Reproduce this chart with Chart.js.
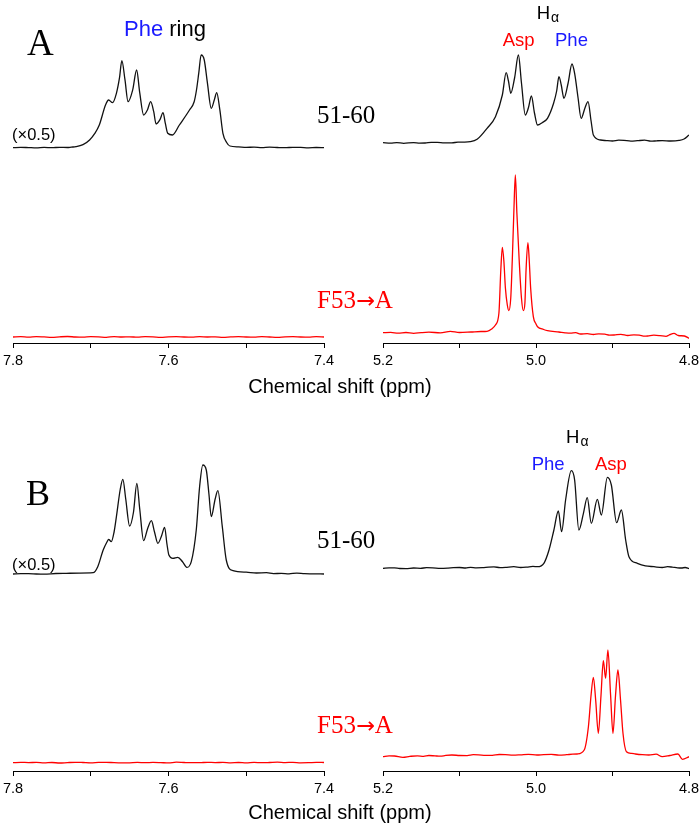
<!DOCTYPE html>
<html><head><meta charset="utf-8">
<script src="https://cdn.jsdelivr.net/npm/chart.js@4.4.0/dist/chart.umd.min.js"></script>
<style>
html,body{margin:0;padding:0;background:#fff;}
#wrap{position:relative;width:700px;height:826px;overflow:hidden;background:#fff;}
canvas{position:absolute;}
.t{position:absolute;white-space:nowrap;line-height:1;}
.sans{font-family:"Liberation Sans",Arial,sans-serif;}
.serif{font-family:"Liberation Serif","Times New Roman",serif;}
.arr{font-family:"DejaVu Sans",sans-serif;font-size:0.9em;}
</style></head><body><div id="wrap"></div>
<script>
// ---------- tick values ----------
const ringTicks = [7.8, 7.7, 7.6, 7.5, 7.4];
const ringTickLabels = [7.8, 7.6, 7.4];
const alphaTicks = [5.2, 5.1, 5.0, 4.9, 4.8];
const alphaTickLabels = [5.2, 5.0, 4.8];

// ---------- spectra: [ppm, intensity] ----------
// Panel A, peptide 51-60, Phe ring region (displayed x0.5)
const A_ring_5160 = [[7.800,0],[7.790,0.4],[7.780,0.1],[7.770,-0.2],[7.760,0.3],[7.750,0],[7.740,0.4],[7.730,0.2],[7.725,0.6],[7.719,1],[7.710,3],[7.7015,7.7],[7.695,14],[7.689,22.7],[7.681,42.7],[7.677,47.7],[7.672,45],[7.667,54.4],[7.663,70],[7.660,87],[7.656,68],[7.652,46],[7.646,58],[7.641,77.7],[7.637,55],[7.632,32.7],[7.627,38],[7.623,46],[7.619,36],[7.616,23.7],[7.611,28],[7.607,35],[7.604,24],[7.601,14.4],[7.595,12.7],[7.586,22.7],[7.573,37.7],[7.567,46],[7.564,57.7],[7.561,75],[7.558,92.7],[7.554,87.7],[7.550,65],[7.545,39.4],[7.541,48],[7.538,55],[7.534,38],[7.530,14.4],[7.525,5],[7.521,1.7],[7.510,0.8],[7.500,0.3],[7.490,0.6],[7.480,0.1],[7.470,0.5],[7.460,0.2],[7.450,0],[7.440,0.4],[7.430,0.3],[7.420,-0.1],[7.410,0.2],[7.400,0]];
// Panel A, peptide 51-60, H-alpha region
const A_alpha_5160 = [[5.200,0.3],[5.190,-0.2],[5.182,0.4],[5.173,-0.3],[5.160,0.4],[5.152,-0.1],[5.145,0],[5.137,0.6],[5.129,0.7],[5.120,0.1],[5.110,0.2],[5.102,0.8],[5.095,0.9],[5.086,1.3],[5.077,3.7],[5.064,14.7],[5.053,26.3],[5.044,48],[5.039,70.3],[5.036,62],[5.033,49.7],[5.028,65],[5.023,88],[5.019,60],[5.014,28],[5.010,35],[5.006,47],[5.002,30],[4.998,18],[4.992,20.3],[4.985,24.7],[4.977,39.7],[4.973,52],[4.970,66.3],[4.967,58],[4.9635,44.7],[4.958,60],[4.953,79],[4.9495,69.7],[4.945,45],[4.941,24.7],[4.936,35],[4.932,41.3],[4.928,22],[4.925,8],[4.9155,3],[4.908,2.4],[4.900,2],[4.892,2.8],[4.885,2.6],[4.876,1.9],[4.8675,2.3],[4.858,2.8],[4.850,1.8],[4.842,2.2],[4.835,2.4],[4.824,2],[4.813,2.6],[4.8065,4],[4.800,8]];
// Panel A, F53->A, Phe ring region
const A_ring_F53A = [[7.80,0],[7.79,0.3],[7.78,-0.2],[7.77,0.4],[7.76,0.1],[7.75,-0.3],[7.74,0.2],[7.73,0.5],[7.72,0],[7.71,-0.2],[7.70,0.3],[7.69,0.1],[7.68,-0.3],[7.67,0.4],[7.66,0],[7.65,0.2],[7.64,-0.2],[7.63,0.3],[7.62,0.1],[7.61,-0.3],[7.60,0.2],[7.59,0.4],[7.58,0],[7.57,-0.2],[7.56,0.3],[7.55,0],[7.54,0.2],[7.53,-0.3],[7.52,0.1],[7.51,0.4],[7.50,0],[7.49,-0.2],[7.48,0.3],[7.47,0],[7.46,-0.3],[7.45,0.2],[7.44,0.4],[7.43,0],[7.42,-0.2],[7.41,0.3],[7.40,0]];
// Panel A, F53->A, H-alpha region
const A_alpha_F53A = [[5.200,0.3],[5.190,0.6],[5.180,-0.2],[5.170,0.5],[5.160,-0.3],[5.150,0.4],[5.140,0.8],[5.125,0.2],[5.112,1.7],[5.100,0.5],[5.085,1],[5.072,1.5],[5.064,1.7],[5.058,4],[5.053,8],[5.0485,19.7],[5.046,63],[5.044,85.7],[5.042,72],[5.040,45],[5.0375,28],[5.0355,22.3],[5.033,35],[5.031,73],[5.029,120],[5.027,158],[5.025,120],[5.022,73],[5.019,35],[5.0166,22.3],[5.0145,30],[5.013,63],[5.0106,90.3],[5.009,75],[5.007,45],[5.0035,16.3],[5.000,9],[4.998,6.3],[4.990,3.5],[4.985,2.3],[4.970,1],[4.962,0.2],[4.955,-0.2],[4.948,0.4],[4.942,-1],[4.933,-0.6],[4.925,-1.5],[4.918,-0.8],[4.910,-1.2],[4.904,-2.1],[4.898,-2],[4.889,-1.4],[4.880,-2.5],[4.872,-1.8],[4.865,-2.2],[4.858,-3.2],[4.854,-3],[4.846,-2.2],[4.838,-2.6],[4.830,-3.3],[4.826,-2],[4.8196,-0.3],[4.814,-2.5],[4.806,-3],[4.800,-5.3]];

// Panel B, peptide 51-60, Phe ring region (displayed x0.5)
const B_ring_5160 = [[7.800,0],[7.790,0.3],[7.780,0.4],[7.770,0],[7.760,-0.2],[7.745,0.5],[7.7315,0.7],[7.715,0.9],[7.697,1.3],[7.691,7.3],[7.684,24],[7.679,32.3],[7.677,34.7],[7.6736,32.3],[7.670,42],[7.667,57.3],[7.662,85],[7.6587,94.7],[7.655,75],[7.650,48],[7.645,62],[7.6407,90.7],[7.637,65],[7.632,33.3],[7.627,45],[7.622,53.3],[7.618,42],[7.6137,30.7],[7.609,38],[7.605,46.7],[7.602,30],[7.5995,19],[7.5944,15.7],[7.588,16.7],[7.582,12.3],[7.5764,6.7],[7.5707,12.3],[7.5643,44],[7.560,87.3],[7.5558,109],[7.5514,104],[7.548,80],[7.545,57.3],[7.540,75],[7.5365,83.3],[7.5308,47.3],[7.5257,14],[7.517,3.3],[7.500,1.8],[7.487,1.0],[7.474,1.3],[7.465,0.4],[7.455,0.6],[7.445,0.2],[7.435,0.9],[7.425,0.3],[7.415,0.2],[7.400,0]];
// Panel B, peptide 51-60, H-alpha region
const B_alpha_5160 = [[5.200,0],[5.192,0.5],[5.185,0.4],[5.178,-0.2],[5.170,-0.3],[5.160,0.3],[5.151,0],[5.143,0.6],[5.135,0.5],[5.125,-0.1],[5.115,0.2],[5.108,0.6],[5.100,0.8],[5.092,0.3],[5.0855,1],[5.078,0.5],[5.070,0.6],[5.062,1.2],[5.055,1.4],[5.047,0.7],[5.040,0.9],[5.029,1.6],[5.020,0.8],[5.012,1.2],[5.004,1.9],[4.998,1.6],[4.9897,5],[4.983,18.3],[4.9766,38.3],[4.9708,57.3],[4.9665,36.6],[4.9613,68.3],[4.9538,97.6],[4.9495,88.3],[4.944,38.3],[4.938,55],[4.933,70.6],[4.9277,45],[4.9198,69],[4.9146,53.3],[4.9067,91],[4.9015,83.3],[4.8946,45.6],[4.8884,58.3],[4.8828,28.3],[4.8785,11.6],[4.8675,5],[4.857,2.4],[4.8458,1.6],[4.835,0.8],[4.828,1.6],[4.822,1.2],[4.815,0.5],[4.810,0.3],[4.805,0.8],[4.800,-0.4]];
// Panel B, F53->A, Phe ring region
const B_ring_F53A = [[7.80,0],[7.79,0.4],[7.78,0.1],[7.77,0.3],[7.76,-0.2],[7.75,0.2],[7.74,-0.3],[7.73,0.1],[7.72,0.4],[7.71,0.2],[7.70,-0.1],[7.69,0.3],[7.68,0.4],[7.67,0],[7.66,-0.2],[7.65,-0.1],[7.64,0.3],[7.63,0],[7.62,0.3],[7.61,0.1],[7.60,-0.2],[7.59,0.5],[7.58,0.2],[7.57,0],[7.56,0],[7.55,0.4],[7.54,0.1],[7.53,0.3],[7.52,-0.1],[7.51,0.2],[7.50,-0.2],[7.49,0.3],[7.48,0],[7.47,0.2],[7.46,0.5],[7.45,0.1],[7.44,0.4],[7.43,-0.1],[7.42,0],[7.41,0.3],[7.40,0.2]];
// Panel B, F53->A, H-alpha region
const B_alpha_F53A = [[5.200,-1.7],[5.192,-0.9],[5.185,-1],[5.174,-2.3],[5.165,-1.4],[5.155,-0.8],[5.147,-1.3],[5.140,-0.5],[5.132,-0.9],[5.125,-1.2],[5.118,-0.4],[5.110,0],[5.100,-0.5],[5.090,-0.6],[5.082,0.3],[5.075,0.2],[5.066,-0.4],[5.057,-0.3],[5.048,0.5],[5.040,0.4],[5.030,-0.2],[5.020,0.2],[5.010,0.7],[4.9987,0],[4.990,0.4],[4.980,0.6],[4.970,-0.1],[4.960,0.3],[4.952,0.8],[4.946,1],[4.937,5],[4.9315,28.3],[4.928,60],[4.925,77.7],[4.922,55],[4.9185,21.7],[4.915,60],[4.912,94.3],[4.909,76.7],[4.906,105],[4.9025,60],[4.8994,21.7],[4.896,60],[4.8929,85],[4.8895,55],[4.8863,21.7],[4.8818,3.3],[4.875,1.6],[4.870,1],[4.861,0.3],[4.8525,0],[4.843,0.8],[4.835,-1.7],[4.825,-0.5],[4.8145,1],[4.8086,-4.3],[4.800,-1.7]];

// ---------- layout ----------
const wrap = document.getElementById('wrap');
const PLOT_H = 343, AXIS_H = 34, PAD = 20;

function makeChart(left, top, plotW, min, max, ticks, labels, traces){
  const c = document.createElement('canvas');
  c.width = plotW + 2*PAD; c.height = PLOT_H + AXIS_H;
  c.style.left = left + 'px'; c.style.top = top + 'px';
  c.style.width = c.width + 'px'; c.style.height = c.height + 'px';
  wrap.appendChild(c);
  new Chart(c, {
    type: 'line',
    data: { datasets: traces.map(t => ({
      data: t.data.map(p => ({x: p[0], y: p[1] + t.offset})),
      borderColor: t.color, borderWidth: 1.3, pointRadius: 0, fill: false,
      cubicInterpolationMode: 'monotone'
    }))},
    options: {
      responsive: false, animation: false, devicePixelRatio: 1,
      layout: { padding: { left: PAD, right: PAD, top: 0, bottom: 0 } },
      plugins: { legend: { display: false }, tooltip: { enabled: false } },
      scales: {
        x: {
          type: 'linear', reverse: true, min: min, max: max,
          afterBuildTicks: s => { s.ticks = ticks.map(v => ({ value: v })); },
          afterFit: s => { s.height = AXIS_H; },
          ticks: { autoSkip: false, maxRotation: 0, padding: 4, color: '#000',
            font: { family: 'Liberation Sans', size: 14.5 },
            callback: v => labels.some(l => Math.abs(l - v) < 1e-6) ? v.toFixed(1) : '' },
          grid: { display: true, drawOnChartArea: false, drawTicks: true, tickLength: 5, color: '#000', lineWidth: 1 },
          border: { display: true, color: '#000', width: 1 }
        },
        y: { display: false, min: 0, max: PLOT_H }
      }
    }
  });
}

const BLACK = '#111', RED = '#ff0000', BLUE = '#1a1aff';
// Panel A
makeChart(13.4 - PAD, 0, 311, 7.4, 7.8, ringTicks, ringTickLabels,
  [{data: A_ring_5160, offset: 195.3, color: BLACK}, {data: A_ring_F53A, offset: 6, color: RED}]);
makeChart(382.5 - PAD, 0, 306, 4.8, 5.2, alphaTicks, alphaTickLabels,
  [{data: A_alpha_5160, offset: 200, color: BLACK}, {data: A_alpha_F53A, offset: 10, color: RED}]);
// Panel B
makeChart(13.4 - PAD, 428, 311, 7.4, 7.8, ringTicks, ringTickLabels,
  [{data: B_ring_5160, offset: 197, color: BLACK}, {data: B_ring_F53A, offset: 8.3, color: RED}]);
makeChart(382.5 - PAD, 428, 306, 4.8, 5.2, alphaTicks, alphaTickLabels,
  [{data: B_alpha_5160, offset: 202.7, color: BLACK}, {data: B_alpha_F53A, offset: 16, color: RED}]);

// ---------- text ----------
function txt(html, x, baseline, size, cls, color, extra){
  const d = document.createElement('div');
  d.className = 't ' + cls;
  d.style.left = x + 'px';
  d.style.top = (baseline - size * (cls === 'serif' ? 0.8375 : 0.8465)) + 'px';
  d.style.fontSize = size + 'px';
  d.style.color = color;
  if (extra) Object.assign(d.style, extra);
  d.innerHTML = html;
  wrap.appendChild(d);
}
const alphaSub = 'H<span style="font-size:14px;position:relative;top:3px;margin-left:1px">α</span>';
const f53 = 'F53<span class="arr">→</span>A';
// Panel A
txt('A', 27, 55, 37, 'serif', '#000');
txt('<span style="color:' + BLUE + '">Phe</span> ring', 124, 36.7, 22, 'sans', '#000');
txt('(×0.5)', 12, 140, 16.5, 'sans', '#000');
txt('51-60', 317, 123.3, 25, 'serif', '#000');
txt(alphaSub, 536.7, 20, 18.5, 'sans', '#000');
txt('Asp', 502.7, 46.7, 18.5, 'sans', RED);
txt('Phe', 555, 46.7, 18.5, 'sans', BLUE);
txt(f53, 317, 308, 25, 'serif', RED);
txt('Chemical shift (ppm)', 240, 393, 20, 'sans', '#000', {width: '200px', textAlign: 'center'});
// Panel B
txt('B', 26, 505, 36, 'serif', '#000');
txt('(×0.5)', 12, 570, 16.5, 'sans', '#000');
txt('51-60', 317, 548.3, 25, 'serif', '#000');
txt(alphaSub, 566, 443.3, 18.5, 'sans', '#000');
txt('Phe', 531.7, 470.7, 18.5, 'sans', BLUE);
txt('Asp', 595, 470.7, 18.5, 'sans', RED);
txt(f53, 317, 733.3, 25, 'serif', RED);
txt('Chemical shift (ppm)', 240, 819, 20, 'sans', '#000', {width: '200px', textAlign: 'center'});
</script>
</body></html>
